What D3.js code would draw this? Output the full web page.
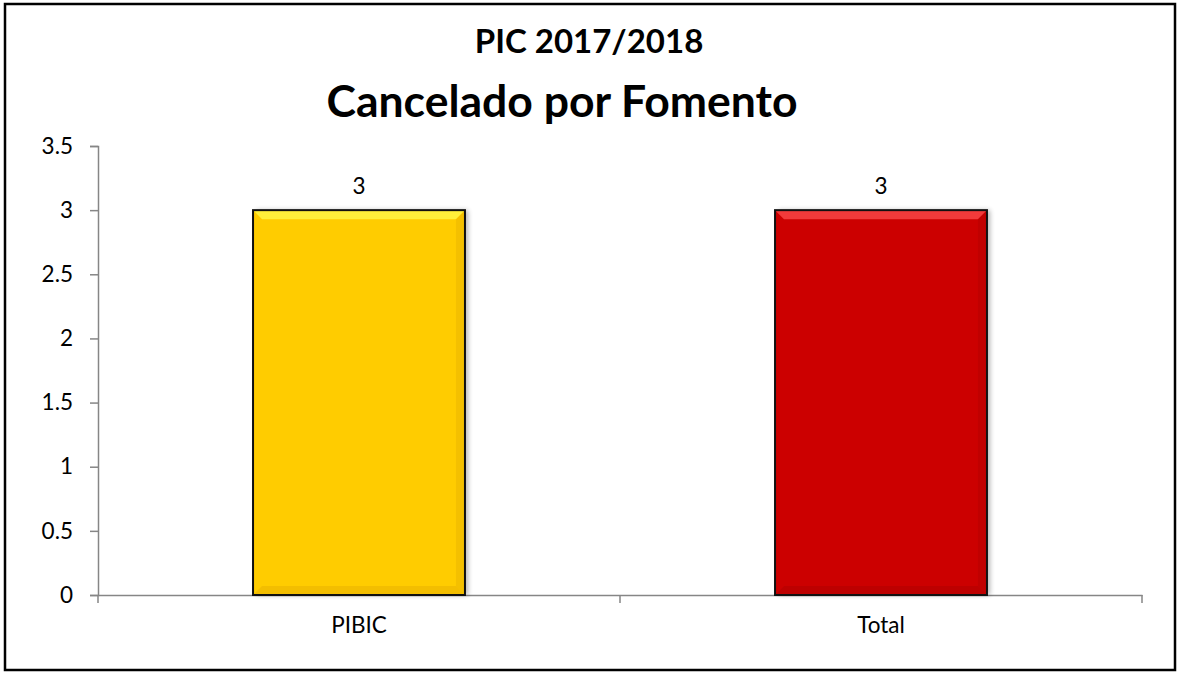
<!DOCTYPE html>
<html><head><meta charset="utf-8">
<script src="https://cdn.jsdelivr.net/npm/d3@7"></script>
<style>body{margin:0;background:#fff}svg{display:block}</style>
</head><body>
<script>
const categories = ["PIBIC", "Total"];
const values = [3, 3];
const colors = ["#FFCC00", "#CC0000"];
const bevelLight = ["#FFF03A", "#F23A3A"];
const bevelDark = ["#E0AA00", "#A80000"];
const yTicks = [0, 0.5, 1, 1.5, 2, 2.5, 3, 3.5];
const title1 = "PIC 2017/2018";
const title2 = "Cancelado por Fomento";

const W = 1178, H = 673;
const svg = d3.select("body").append("svg").attr("width", W).attr("height", H);
const font = "Lato, 'Open Sans', sans-serif";

svg.append("rect").attr("x", 5).attr("y", 4).attr("width", 1170).attr("height", 666)
  .attr("fill", "#fff").attr("stroke", "#000").attr("stroke-width", 2.5);

const x0 = 98, x1 = 1142, yTop = 146, yBot = 595;
const x = d3.scaleBand().domain(categories).range([x0, x1]).padding(0);
const y = d3.scaleLinear().domain([0, 3.5]).range([yBot, yTop]);
const axisColor = "#868686";

// titles
svg.append("text").attr("x", 589).attr("y", 53).attr("text-anchor", "middle")
  .attr("font-family", font).attr("font-weight", "bold").attr("font-size", 33)
  .attr("fill", "#000").text(title1);
svg.append("text").attr("x", 562).attr("y", 117).attr("text-anchor", "middle")
  .attr("font-family", font).attr("font-weight", "bold").attr("font-size", 44.5)
  .attr("fill", "#000").text(title2);

// y axis
const yAxis = svg.append("g").attr("transform", `translate(${x0},0)`)
  .call(d3.axisLeft(y).tickValues(yTicks).tickSize(8).tickPadding(17).tickFormat(d3.format("")));
yAxis.select(".domain").attr("stroke", axisColor).attr("stroke-width", 1.5);
yAxis.selectAll(".tick line").attr("stroke", axisColor).attr("stroke-width", 1.5);
yAxis.selectAll(".tick text").attr("font-family", font).attr("font-size", 22.5).attr("fill", "#000");

// x axis
const xAxis = svg.append("g").attr("transform", `translate(0,${yBot})`)
  .call(d3.axisBottom(x).tickSize(0).tickPadding(22));
xAxis.select(".domain").attr("stroke", axisColor).attr("stroke-width", 1.5);
xAxis.selectAll(".tick text").attr("font-family", font).attr("font-size", 22.5).attr("fill", "#000").attr("dy", "0.71em");
// x boundary tick marks
const bounds = [x0].concat(categories.map(c => x(c) + x.bandwidth()));
svg.append("g").selectAll("line").data(bounds).join("line")
  .attr("x1", d => d).attr("x2", d => d).attr("y1", yBot).attr("y2", yBot + 8)
  .attr("stroke", axisColor).attr("stroke-width", 1.5);

// bars
const barRatio = 0.406;
const bw = x.bandwidth() * barRatio;
const defs = svg.append("defs");
const flt = defs.append("filter").attr("id", "sh").attr("x", "-10%").attr("y", "-10%").attr("width", "130%").attr("height", "130%");
flt.append("feGaussianBlur").attr("in", "SourceAlpha").attr("stdDeviation", 2.5);
flt.append("feOffset").attr("dx", 3).attr("dy", 0).attr("result", "ob");
flt.append("feComponentTransfer").append("feFuncA").attr("type", "linear").attr("slope", 0.3);
const m = flt.append("feMerge"); m.append("feMergeNode"); m.append("feMergeNode").attr("in", "SourceGraphic");

const bars = svg.append("g").selectAll("g").data(categories).join("g");
bars.each(function(c, i) {
  const g = d3.select(this);
  const bx = x(c) + (x.bandwidth() - bw) / 2, by = y(values[i]), bh = y(0) - y(values[i]);
  const b = 9;
  g.append("rect").attr("x", bx).attr("y", by).attr("width", bw).attr("height", bh)
    .attr("fill", colors[i]).attr("filter", "url(#sh)");
  g.append("path").attr("d", `M${bx},${by}L${bx+bw},${by}L${bx+bw-b},${by+b}L${bx+b},${by+b}Z`).attr("fill", bevelLight[i]);
  g.append("path").attr("d", `M${bx+bw},${by}L${bx+bw},${by+bh}L${bx+bw-b},${by+bh-b}L${bx+bw-b},${by+b}Z`).attr("fill", bevelDark[i]).attr("opacity", 0.35);
  g.append("path").attr("d", `M${bx},${by+bh}L${bx+bw},${by+bh}L${bx+bw-b},${by+bh-b}L${bx+b},${by+bh-b}Z`).attr("fill", bevelDark[i]).attr("opacity", 0.4);
  g.append("rect").attr("x", bx).attr("y", by).attr("width", bw).attr("height", bh)
    .attr("fill", "none").attr("stroke", "#111").attr("stroke-width", 2);
  g.append("text").attr("x", bx + bw / 2).attr("y", by - 16).attr("text-anchor", "middle")
    .attr("font-family", font).attr("font-size", 22.5).attr("fill", "#000").text(values[i]);
});
</script>
</body></html>
